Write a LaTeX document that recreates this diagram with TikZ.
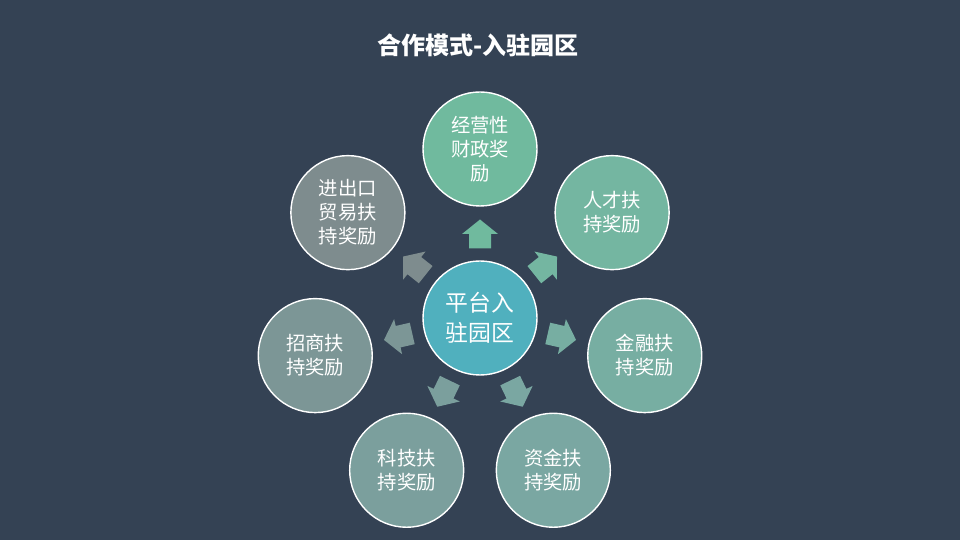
\documentclass[tikz,border=0pt]{standalone}
\usepackage{fontspec}
\newfontfamily\cjk{Noto Sans CJK SC}
\usetikzlibrary{calc}

\definecolor{bgslate}{HTML}{344254}
\definecolor{hubteal}{HTML}{50B0BE}
\definecolor{ringA}{HTML}{70BA9E}
\definecolor{ringB}{HTML}{74B6A1}
\definecolor{ringC}{HTML}{77AEA2}
\definecolor{ringD}{HTML}{7AA7A2}
\definecolor{ringE}{HTML}{7B9F9D}
\definecolor{ringF}{HTML}{7C9696}
\definecolor{ringG}{HTML}{7E8C8E}

\tikzset{
  bubble/.style={circle, draw=white, line width=1.2pt, minimum size=3.42cm,
    inner sep=0pt, align=center, text=white, font=\cjk\fontsize{16.5}{20.5}\selectfont},
  hub/.style={bubble, fill=hubteal, font=\cjk\fontsize{19.5}{26}\selectfont}
}

\begin{document}
\begin{tikzpicture}[x=0.03cm, y=0.03cm]
    \fill[bgslate] (0,0) rectangle (960,540);
    \useasboundingbox (0,0) rectangle (960,540);
    \node[text=white, font=\cjk\bfseries\fontsize{20.5}{24}\selectfont] (title) at (478,495) {合作模式-入驻园区};

    \node[hub] (hub) at (480,222) {平台入\\驻园区};

    % outer ring, clockwise from the top
    \foreach \i/\col/\txt in {0/ringA/经营性\\财政奖\\励, 1/ringB/人才扶\\持奖励,
        2/ringC/金融扶\\持奖励, 3/ringD/资金扶\\持奖励, 4/ringE/科技扶\\持奖励,
        5/ringF/招商扶\\持奖励, 6/ringG/进出口\\贸易扶\\持奖励} {
        \pgfmathsetmacro{\ang}{90-51.4286*\i}
        \node[bubble, fill=\col] (award\i) at ($(hub)+(\ang:169)$) {\txt};
        % block arrow between hub and bubble
        \fill[\col, shift={($(hub)+(\ang:84)$)}, rotate=\ang]
            (-14.5,-11) -- (0,-11) -- (0,-18) -- (14.5,0)
            -- (0,18) -- (0,11) -- (-14.5,11) -- cycle;
    }
\end{tikzpicture}
\end{document}
